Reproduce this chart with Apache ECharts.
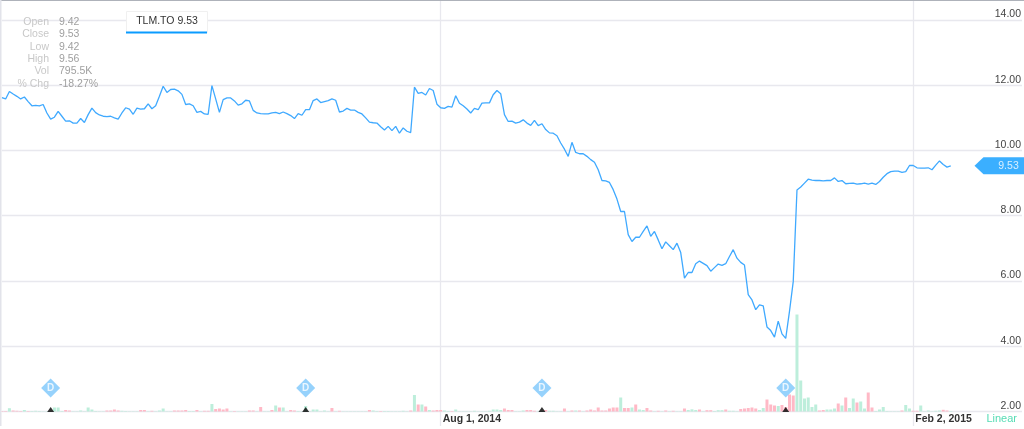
<!DOCTYPE html>
<html><head><meta charset="utf-8">
<script src="https://cdn.jsdelivr.net/npm/echarts@6/dist/echarts.min.js"></script>
<style>html,body{margin:0;padding:0;background:#fff}#c{width:1024px;height:429px;overflow:hidden}</style>
</head><body><div id="c"></div>
<script>
const closePrice = [
11.62,11.58,11.81,11.73,11.66,11.58,11.64,11.50,11.37,11.38,11.37,11.41,11.15,10.96,11.02,11.20,11.05,10.90,10.91,10.84,
10.84,10.98,10.86,11.10,11.30,11.16,11.09,11.05,11.04,11.05,11.00,10.96,11.15,11.31,11.27,11.11,11.30,11.27,11.28,11.43,
11.28,11.37,11.66,11.97,11.78,11.87,11.88,11.83,11.72,11.41,11.43,11.37,11.17,11.20,11.12,11.11,11.99,11.58,11.17,11.56,
11.61,11.61,11.52,11.39,11.43,11.54,11.52,11.23,11.15,11.13,11.12,11.12,11.15,11.17,11.13,11.18,11.13,11.07,10.98,11.13,
11.08,11.25,11.25,11.53,11.58,11.47,11.50,11.53,11.58,11.54,11.18,11.21,11.29,11.24,11.24,11.17,11.12,11.00,10.87,10.85,
10.84,10.73,10.63,10.74,10.61,10.74,10.53,10.69,10.59,10.55,11.94,11.75,11.78,11.70,11.90,11.84,11.42,11.31,11.29,11.35,
11.33,11.68,11.45,11.37,11.27,11.15,11.29,11.25,11.45,11.46,11.46,11.71,11.84,11.74,11.10,10.89,10.90,10.84,10.87,10.94,
10.84,10.77,10.92,10.76,10.82,10.64,10.54,10.53,10.45,10.23,10.04,9.82,10.25,9.94,9.90,9.90,9.82,9.72,9.64,9.41,
9.08,9.07,9.02,8.80,8.51,8.13,8.13,7.42,7.21,7.34,7.34,7.52,7.69,7.37,7.52,7.26,6.99,7.20,7.08,6.96,
7.16,6.87,6.09,6.26,6.26,6.53,6.61,6.54,6.47,6.30,6.41,6.52,6.48,6.53,6.75,6.96,6.70,6.57,6.49,5.58,
5.42,5.12,5.27,5.24,4.59,4.48,4.28,4.77,4.38,4.24,5.07,5.98,8.79,8.88,9.00,9.12,9.09,9.08,9.08,9.07,
9.08,9.08,9.16,9.05,9.08,8.98,8.99,9.00,8.97,8.98,9.00,8.97,9.00,8.96,9.05,9.18,9.29,9.35,9.37,9.37,
9.33,9.35,9.54,9.54,9.47,9.46,9.46,9.47,9.41,9.55,9.68,9.57,9.49,9.53
];
// volume in millions of shares; positive = up day (green), negative = down day (pink)
const signedVolume = [
-.2,-.2,1.32,-.4,-.28,-.2,.6,-.2,.2,.28,.2,.12,.12,0,1.6,1.6,.2,-.6,-.4,.12,
.12,.4,.12,1.6,.8,.2,.12,.12,-.4,-.4,-.8,-.4,.28,.2,.12,.12,.12,-.6,-.6,.12,
-.28,.12,.4,1.2,.12,.12,-.4,-.4,-.4,-.6,.2,.2,-.6,.12,-.28,-.28,3,-1,-1.2,-.8,
-1.2,.12,-.2,.12,.12,.12,-.4,-.4,.12,-1.8,.12,.12,-.6,2.4,-1.6,1.6,.12,-.6,-.4,.2,
.12,2.2,.12,.8,.8,.12,.4,.12,-1.4,.12,-.28,.12,.12,.12,.12,.12,.12,.12,-.6,.4,
.2,-.2,.2,.2,.12,.12,.12,.28,.12,-.4,6.6,-2.8,2.8,-2,.6,-.4,-.6,-.6,.4,.2,
-.2,.8,.12,.12,.12,.12,.28,.12,.12,.12,.28,.8,.8,.6,-1.2,-.6,-.6,.12,.12,.4,
-.6,-.6,-.28,.12,.12,-.6,.28,.28,.12,.12,-1.2,.12,-.4,.4,-.4,.12,-.4,-.8,-.4,-1.6,
-.4,-.4,-1.2,-1.6,-1.6,5.6,-1.4,-1.4,1.6,-2.8,.8,.6,-1.4,-.4,.12,-.28,.12,-.4,.12,-.28,
.12,.12,-1.2,.6,.88,.6,-.8,.12,-.52,-.52,.2,.52,.52,-.8,.28,.28,.12,-1,-1.2,-1.4,
-1.6,-1.2,.6,1.4,-4.8,-2.8,-2.4,2.2,-2.6,-1.8,-6.8,-6.4,38.8,12.4,5.2,5.6,1.8,2.8,-.4,-.6,
.8,.8,1.2,-3.2,2.4,-5.6,1.4,5.2,-3.6,4,1.2,-7.6,-1.6,.2,.8,1.8,.2,.12,.12,.12,
-.4,2.6,1.2,-.28,-.28,2.4,.12,.4,.12,.28,.4,-.68,-.4,.2
];
const dividendDays = [13, 81, 144, 209];
const axisTicks = [2, 4, 6, 8, 10, 12, 14];
const dateTickDays = [117, 243];
const dateTickLabels = ['Aug 1, 2014', 'Feb 2, 2015'];
const quoteLabels = ['Open', 'Close', 'Low', 'High', 'Vol', '% Chg'];
const quoteValues = ['9.42', '9.53', '9.42', '9.56', '795.5K', '-18.27%'];
const tickerLabel = 'TLM.TO 9.53';
const lastPrice = 9.53;
const dayCount = 273;

const days = Array.from({length: dayCount}, (_, i) => String(i));
const FONT = '"Liberation Sans", Arial, sans-serif';
const isDateTick = i => dateTickDays.includes(i);

const chart = echarts.init(document.getElementById('c'), null, {renderer: 'canvas'});
const graphics = [
  {type:'rect', shape:{x:0,y:0,width:1024,height:1}, style:{fill:'#aeb2ba'}, z:20, silent:true},
  {type:'rect', shape:{x:0,y:0,width:1.5,height:426}, style:{fill:'#e2e3ea'}, z:20, silent:true},
  {type:'rect', shape:{x:126.5,y:11.5,width:81,height:21}, style:{fill:'#fff', stroke:'#f0f0f0', lineWidth:1}, z:20, silent:true},
  {type:'rect', shape:{x:126,y:31.5,width:81,height:2}, style:{fill:'#0a9bff'}, z:21, silent:true},
  {type:'text', x:167, y:21, style:{text:tickerLabel, fill:'#333', font:'10.5px '+FONT, textAlign:'center', textVerticalAlign:'middle'}, z:22, silent:true},
  {type:'text', x:1017, y:419, style:{text:'Linear', fill:'#55dcb4', font:'11px '+FONT, textAlign:'right', textVerticalAlign:'middle'}, z:22, silent:true}
];
quoteLabels.forEach((t, k) => {
  const y = 22 + k * 12.4;
  graphics.push({type:'text', x:49, y, style:{text:t, fill:'#c8c8c8', font:'10.5px '+FONT, textAlign:'right', textVerticalAlign:'middle'}, z:22, silent:true});
  graphics.push({type:'text', x:59, y, style:{text:quoteValues[k], fill:'#a0a0a0', font:'10.5px '+FONT, textAlign:'left', textVerticalAlign:'middle'}, z:22, silent:true});
});

chart.setOption({
  animation: false,
  backgroundColor: '#fff',
  graphic: graphics,
  grid: {left: 1.9, top: 0, right: 1.6, height: 426, containLabel: false},
  xAxis: {
    type: 'category', data: days, boundaryGap: false,
    axisLine: {show:false}, axisTick: {show:false},
    axisLabel: {
      inside: true, margin: 1, align: 'left', padding: [0,0,0,2],
      color: '#333', fontFamily: FONT, fontSize: 10.5, fontWeight: 'bold',
      interval: i => isDateTick(i),
      formatter: (v, i) => dateTickLabels[dateTickDays.indexOf(Number(v))] || ''
    },
    splitLine: {show:true, interval: i => isDateTick(i), lineStyle:{color:'#e8e8ee', width:1.3}}
  },
  yAxis: [{
    type: 'value', position: 'right', min: 1.555, max: 14.613,
    axisLine: {show:false},
    axisTick: {show:false, customValues: axisTicks},
    axisLabel: {
      inside: true, margin: 1, customValues: axisTicks, verticalAlign: 'bottom', lineHeight: 11,
      color: '#444', fontFamily: FONT, fontSize: 10.5,
      formatter: v => v.toFixed(2)
    },
    splitLine: {show:true, lineStyle:{color:'#e8e8ee', width:1.3}}
  },{
    type: 'value', show: false, min: -5.8, max: 164.6, splitLine:{show:false}
  }],
  series: [
    {type:'bar', name:'up', yAxisIndex:1, barWidth:3, barGap:'-100%', silent:true, z:2,
     data: signedVolume.map(v => v > 0 ? v : null), itemStyle:{color:'#bdeedb'}},
    {type:'bar', name:'down', yAxisIndex:1, barWidth:3, barGap:'-100%', silent:true, z:2,
     data: signedVolume.map(v => v < 0 ? -v : null), itemStyle:{color:'#ffb9c6'}},
    {type:'line', name:'TLM.TO', data: closePrice, showSymbol:false, symbol:'none', silent:true, z:5,
     lineStyle:{color:'#3fa9ff', width:1.3}},
    {type:'scatter', name:'divBase', silent:true, z:6, symbol:'triangle', symbolSize:[7,5], symbolOffset:[0,-2],
     data: dividendDays.map(d => [d, 2]), itemStyle:{color:'#000'}},
    {type:'scatter', name:'dividend', silent:true, z:7, symbol:'diamond', symbolSize:19,
     data: dividendDays.map(d => [d, 2.72]), itemStyle:{color:'#7cc7fb'},
     label:{show:true, position:'inside', formatter:'D', color:'#fff', fontFamily:FONT, fontSize:10, fontWeight:'bold'}},
    {type:'scatter', name:'last', silent:true, z:8,
     symbol:'path://M9 0 L50 0 L50 17 L9 17 L0 8.5 Z', symbolSize:[50,17], symbolKeepAspect:false,
     data: [[266, lastPrice]], itemStyle:{color:'#0a9bff'},
     label:{show:true, position:'inside', offset:[9,0], formatter: () => lastPrice.toFixed(2), color:'#fff', fontFamily:FONT, fontSize:10.5}}
  ]
});
</script></body></html>
